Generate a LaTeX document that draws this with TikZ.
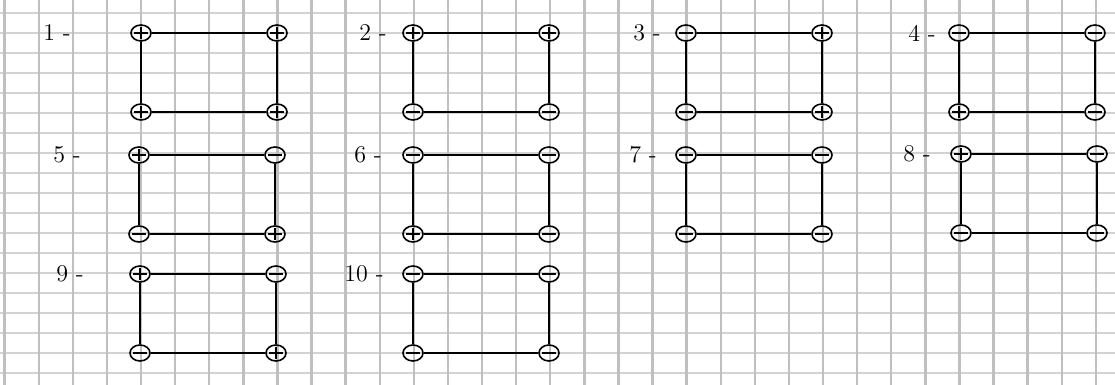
\documentclass[tikz,border=0pt]{standalone}
\usepackage{tikz}
\usetikzlibrary{shapes.geometric,positioning}

\tikzset{
  vline/.style={gray!50, line width=1.2pt},
  hline/.style={gray!35, line width=1pt},
  sgn/.style={draw, ellipse, thick, inner sep=0pt, minimum width=10pt, minimum height=8pt},
  plussgn/.style={sgn, path picture={
      \draw[thick] ([xshift=1.5pt]path picture bounding box.west) -- ([xshift=-1.5pt]path picture bounding box.east);
      \draw[thick] ([yshift=-1pt]path picture bounding box.north) -- ([yshift=1pt]path picture bounding box.south);}},
  minussgn/.style={sgn, path picture={
      \draw[thick] ([xshift=1.5pt]path picture bounding box.west) -- ([xshift=-1.5pt]path picture bounding box.east);}},
  side/.style={thick},
  lbl/.style={font=\large}
}

% one square: id, x, y, label offset, label, signs tl tr bl br
\newcommand{\signsq}[9]{%
  \node[#6] (#1tl) at (#2,#3) {};
  \node[#7] (#1tr) at (#2+136,#3) {};
  \node[#8] (#1bl) at (#2,#3+79) {};
  \node[#9] (#1br) at (#2+136,#3+79) {};
  \draw[side] (#1tl) -- (#1tr) -- (#1br) -- (#1bl) -- (#1tl);
  \node[lbl] (#1lab) at (#2-#4,#3) {#5};
}

\begin{document}
\begin{tikzpicture}[x=0.5pt, y=-0.5pt]
  \useasboundingbox (0,0) rectangle (1115,385);
  % squared paper
  \foreach \k in {0,...,18}
    \draw[hline] (0,13+20*\k) -- (1115,13+20*\k);
  \foreach \k in {0,...,32}
    \draw[vline] (4.6+34.1*\k,0) -- (4.6+34.1*\k,385);

  % first row
  \signsq{a}{141}{33}{84}{1 -}{plussgn}{plussgn}{plussgn}{plussgn}
  \signsq{b}{413}{33}{40}{2 -}{plussgn}{plussgn}{minussgn}{minussgn}
  \signsq{c}{686}{33}{39}{3 -}{minussgn}{plussgn}{minussgn}{plussgn}
  \signsq{d}{959}{33}{37}{4 -}{minussgn}{minussgn}{plussgn}{minussgn}
  % second row
  \signsq{e}{139}{155}{72}{5 -}{plussgn}{minussgn}{minussgn}{plussgn}
  \signsq{f}{413}{155}{45}{6 -}{minussgn}{minussgn}{plussgn}{minussgn}
  \signsq{g}{686}{155}{43}{7 -}{minussgn}{minussgn}{minussgn}{minussgn}
  \signsq{h}{961}{154}{44}{8 -}{plussgn}{minussgn}{minussgn}{minussgn}
  % third row
  \signsq{i}{140}{274}{70}{9 -}{plussgn}{minussgn}{minussgn}{plussgn}
  \signsq{j}{413}{274}{49}{10 -}{minussgn}{minussgn}{minussgn}{minussgn}
\end{tikzpicture}
\end{document}
